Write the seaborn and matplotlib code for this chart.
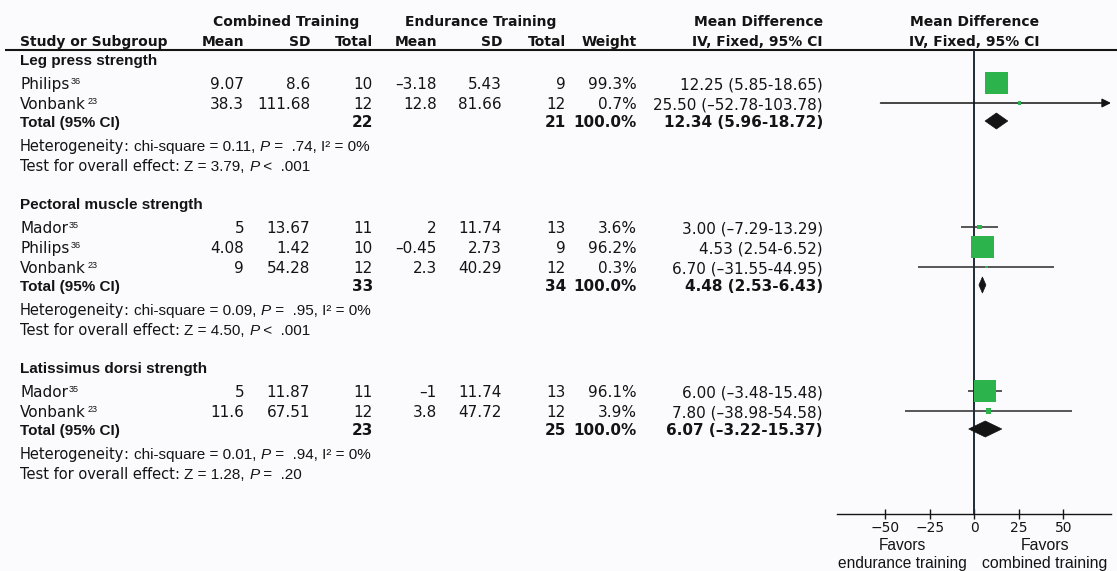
import matplotlib
matplotlib.use("Agg")
import matplotlib.pyplot as plt
from matplotlib.patches import Polygon
import numpy as np
import pandas as pd
import seaborn as sns

# ---------------------------------------------------------------- data
subgroups = ["Leg press strength", "Pectoral muscle strength", "Latissimus dorsi strength"]
study_names = [["Philips", "Vonbank"], ["Mador", "Philips", "Vonbank"], ["Mador", "Vonbank"]]
study_refs = [["36", "23"], ["35", "36", "23"], ["35", "23"]]

comb_mean = [[9.07, 38.3], [5, 4.08, 9], [5, 11.6]]
comb_sd = [[8.6, 111.68], [13.67, 1.42, 54.28], [11.87, 67.51]]
comb_n = [[10, 12], [11, 10, 12], [11, 12]]
end_mean = [[-3.18, 12.8], [2, -0.45, 2.3], [-1, 3.8]]
end_sd = [[5.43, 81.66], [11.74, 2.73, 40.29], [11.74, 47.72]]
end_n = [[9, 12], [13, 9, 12], [13, 12]]
weight = [[99.3, 0.7], [3.6, 96.2, 0.3], [96.1, 3.9]]
md = [[12.25, 25.50], [3.00, 4.53, 6.70], [6.00, 7.80]]
ci_lo = [[5.85, -52.78], [-7.29, 2.54, -31.55], [-3.48, -38.98]]
ci_hi = [[18.65, 103.78], [13.29, 6.52, 44.95], [15.48, 54.58]]

total_comb_n = [22, 33, 23]
total_end_n = [21, 34, 25]
total_weight = [100.0, 100.0, 100.0]
total_md = [12.34, 4.48, 6.07]
total_lo = [5.96, 2.53, -3.22]
total_hi = [18.72, 6.43, 15.37]

het_chi2 = [0.11, 0.09, 0.01]
het_p = [".74", ".95", ".94"]
het_i2 = [0, 0, 0]
effect_z = [3.79, 4.50, 1.28]
effect_p = [("<", ".001"), ("<", ".001"), ("=", ".20")]

x_ticks = [-50, -25, 0, 25, 50]
favors_left = "Favors\nendurance training"
favors_right = "Favors\ncombined training"

# ---------------------------------------------------------------- style
sns.set_theme(style="white")
plt.rcParams["font.family"] = ["DejaVu Sans"]

BG = "#fbfbfd"
INK = "#141414"
GREEN = "#2db34c"
AXIS = "#1f2b36"
LUCIDA = "DejaVu Sans"
ARIAL = "Liberation Sans"
FS = 11.0        # body text size
FS_ARIAL = 11.0

W, H = 1117, 571
fig = plt.figure(figsize=(W / 100, H / 100), dpi=100, facecolor=BG)

# table axes in pixel units
ax_t = fig.add_axes([0, 0, 1, 1])
ax_t.set_xlim(0, W)
ax_t.set_ylim(H, 0)
ax_t.axis("off")

# forest plot axes (x in mean-difference units, y in the same row units)
FX0, FX1, FY0, FY1 = 837, 1111, 50, 514
ax_f = fig.add_axes([FX0 / W, (H - FY1) / H, (FX1 - FX0) / W, (FY1 - FY0) / H])
ax_f.patch.set_alpha(0)

renderer = fig.canvas.get_renderer()


def text_width(s, **kw):
    t = ax_t.text(0, 0, s + "x", **kw)
    t2 = ax_t.text(0, 0, "x", **kw)
    w = t.get_window_extent(renderer).width - t2.get_window_extent(renderer).width
    t.remove()
    t2.remove()
    return w


def draw_runs(x, y, parts):
    for s, kw in parts:
        kw = dict(kw)
        dy = kw.pop("dy", 0)
        ax_t.text(x, y - dy, s, ha="left", va="baseline", color=INK, **kw)
        x += text_width(s, **kw)
    return x


def num(v):
    return f"{v:g}".replace("-", "\u2013")


def num2(v):
    return f"{v:.2f}".replace("-", "\u2013")


def ci_text(m, lo, hi):
    return f"{num2(m)} ({num2(lo)}-{num2(hi)})"


reg = dict(family=LUCIDA, fontsize=FS)
reg_small = dict(family=LUCIDA, fontsize=10.5)
bold = dict(family=LUCIDA, fontsize=FS, fontweight="bold")
hdr = dict(family=LUCIDA, fontsize=10, fontweight="bold")
arial = dict(family=ARIAL, fontsize=FS_ARIAL)
arial_i = dict(family=ARIAL, fontsize=FS_ARIAL, style="italic")
arial_b = dict(family=ARIAL, fontsize=FS_ARIAL, fontweight="bold")
sup = dict(family=ARIAL, fontsize=6.5, dy=5)

# column right edges
COL = dict(c_mean=244, c_sd=310, c_n=373, e_mean=437, e_sd=502, e_n=566, w=637, md=823)
LEFT = 20

# ---------------------------------------------------------------- header
ax_t.text(286, 26, "Combined Training", ha="center", va="baseline", color=INK, **hdr)
ax_t.text(481, 26, "Endurance Training", ha="center", va="baseline", color=INK, **hdr)
ax_t.text(COL["md"], 26, "Mean Difference", ha="right", va="baseline", color=INK, **hdr)
ax_t.text(LEFT, 46, "Study or Subgroup", ha="left", va="baseline", color=INK, **hdr)
for key, lab in [("c_mean", "Mean"), ("c_sd", "SD"), ("c_n", "Total"), ("e_mean", "Mean"),
                 ("e_sd", "SD"), ("e_n", "Total"), ("w", "Weight"), ("md", "IV, Fixed, 95% CI")]:
    ax_t.text(COL[key], 46, lab, ha="right", va="baseline", color=INK, **hdr)
ax_t.plot([5, W], [50, 50], color=INK, lw=1.5, solid_capstyle="butt")

# ---------------------------------------------------------------- row layout
HEAD_TO_ROW, ROW_STEP, ROW_TO_TOTAL, TOTAL_TO_HET, HET_TO_TEST, TEST_TO_HEAD = 24, 20, 18, 24, 20, 38
MARK_OFFSET = 6  # marks sit on the visual centre of the text line

y = 65
study_records = []
total_records = []
for g, name in enumerate(subgroups):
    ax_t.text(LEFT, y, name, ha="left", va="baseline", color=INK, **arial_b)
    y += HEAD_TO_ROW
    for i, sname in enumerate(study_names[g]):
        draw_runs(LEFT, y, [(sname, reg), ("\u2009", dict(family=ARIAL, fontsize=5)), (study_refs[g][i], sup)])
        vals = [("c_mean", num(comb_mean[g][i])), ("c_sd", num(comb_sd[g][i])), ("c_n", str(comb_n[g][i])),
                ("e_mean", num(end_mean[g][i])), ("e_sd", num(end_sd[g][i])), ("e_n", str(end_n[g][i])),
                ("w", f"{weight[g][i]:.1f}%"), ("md", ci_text(md[g][i], ci_lo[g][i], ci_hi[g][i]))]
        for key, s in vals:
            ax_t.text(COL[key], y, s, ha="right", va="baseline", color=INK, **reg)
        study_records.append(dict(md=md[g][i], lo=ci_lo[g][i], hi=ci_hi[g][i],
                                  weight=weight[g][i], row=y - MARK_OFFSET))
        y += ROW_STEP
    y += ROW_TO_TOTAL - ROW_STEP
    ax_t.text(LEFT, y, "Total (95% CI)", ha="left", va="baseline", color=INK, **arial_b)
    for key, s in [("c_n", str(total_comb_n[g])), ("e_n", str(total_end_n[g])),
                   ("w", f"{total_weight[g]:.1f}%"),
                   ("md", ci_text(total_md[g], total_lo[g], total_hi[g]))]:
        ax_t.text(COL[key], y, s, ha="right", va="baseline", color=INK, **bold)
    total_records.append(dict(md=total_md[g], lo=total_lo[g], hi=total_hi[g], row=y - MARK_OFFSET))
    y += TOTAL_TO_HET
    draw_runs(LEFT, y, [("Heterogeneity", reg_small), (": ", reg_small),
                        (f"chi-square = {het_chi2[g]:.2f}, ", arial), ("P", arial_i),
                        (f" =  {het_p[g]}, I\u00b2 = {het_i2[g]}%", arial)])
    y += HET_TO_TEST
    draw_runs(LEFT, y, [("Test for overall effect", reg_small), (": ", reg_small),
                        (f"Z = {effect_z[g]:.2f}, ", arial), ("P", arial_i),
                        (f" {effect_p[g][0]}  {effect_p[g][1]}", arial)])
    y += TEST_TO_HEAD

studies = pd.DataFrame(study_records)
totals = pd.DataFrame(total_records)

# ---------------------------------------------------------------- forest plot
XMIN, XMAX = -77.2, 76.7
ax_f.axvline(0, color=AXIS, lw=1.4, zorder=1)

for r in studies.itertuples():
    lo, hi = max(r.lo, XMIN), min(r.hi, XMAX)
    if r.hi > XMAX:
        ax_f.annotate("", xy=(XMAX, r.row), xytext=(lo, r.row),
                      arrowprops=dict(arrowstyle="-|>", color=INK, lw=1.1,
                                      mutation_scale=13, shrinkA=0, shrinkB=0),
                      zorder=2, annotation_clip=False)
    else:
        ax_f.plot([lo, hi], [r.row, r.row], color="#2a2a2a", lw=1.1,
                  solid_capstyle="butt", zorder=2)

sns.scatterplot(data=studies, x="md", y="row", size="weight", sizes=(3, 276),
                size_norm=(0, 100), marker="s", color=GREEN, linewidth=0,
                legend=False, ax=ax_f, zorder=4)

DIAMOND_H = 16
for r in totals.itertuples():
    ax_f.add_patch(Polygon([(r.lo, r.row), (r.md, r.row - DIAMOND_H / 2),
                            (r.hi, r.row), (r.md, r.row + DIAMOND_H / 2)],
                           closed=True, facecolor=INK, edgecolor=INK, lw=0.5, zorder=5))

ax_f.set_xlim(XMIN, XMAX)
ax_f.set_ylim(FY1, FY0)
ax_f.set_xlabel("")
ax_f.set_ylabel("")
ax_f.set_yticks([])
ax_f.set_xticks(x_ticks)
ax_f.set_xticklabels([f"{t}".replace("-", "\u2212") for t in x_ticks])
ax_f.tick_params(axis="x", direction="inout", length=6.5, width=1.0, color=INK,
                 labelcolor=INK, labelsize=10, pad=1.5, bottom=True)
for side in ["left", "right", "top"]:
    ax_f.spines[side].set_visible(False)
ax_f.spines["bottom"].set_color(INK)
ax_f.spines["bottom"].set_linewidth(1.0)

# column header above the forest plot, centred on the line of no effect
for yy, lab in [(26, "Mean Difference"), (46, "IV, Fixed, 95% CI")]:
    ax_f.text(0, yy, lab, ha="center", va="baseline", color=INK, clip_on=False, **hdr)

ax_f.text(-40.5, 538, favors_left, ha="center", va="top", color=INK, clip_on=False,
          linespacing=1.25, family=ARIAL, fontsize=11.2)
ax_f.text(39.5, 538, favors_right, ha="center", va="top", color=INK, clip_on=False,
          linespacing=1.25, family=ARIAL, fontsize=11.4)

fig.savefig("out.png", dpi=100, facecolor=BG)
